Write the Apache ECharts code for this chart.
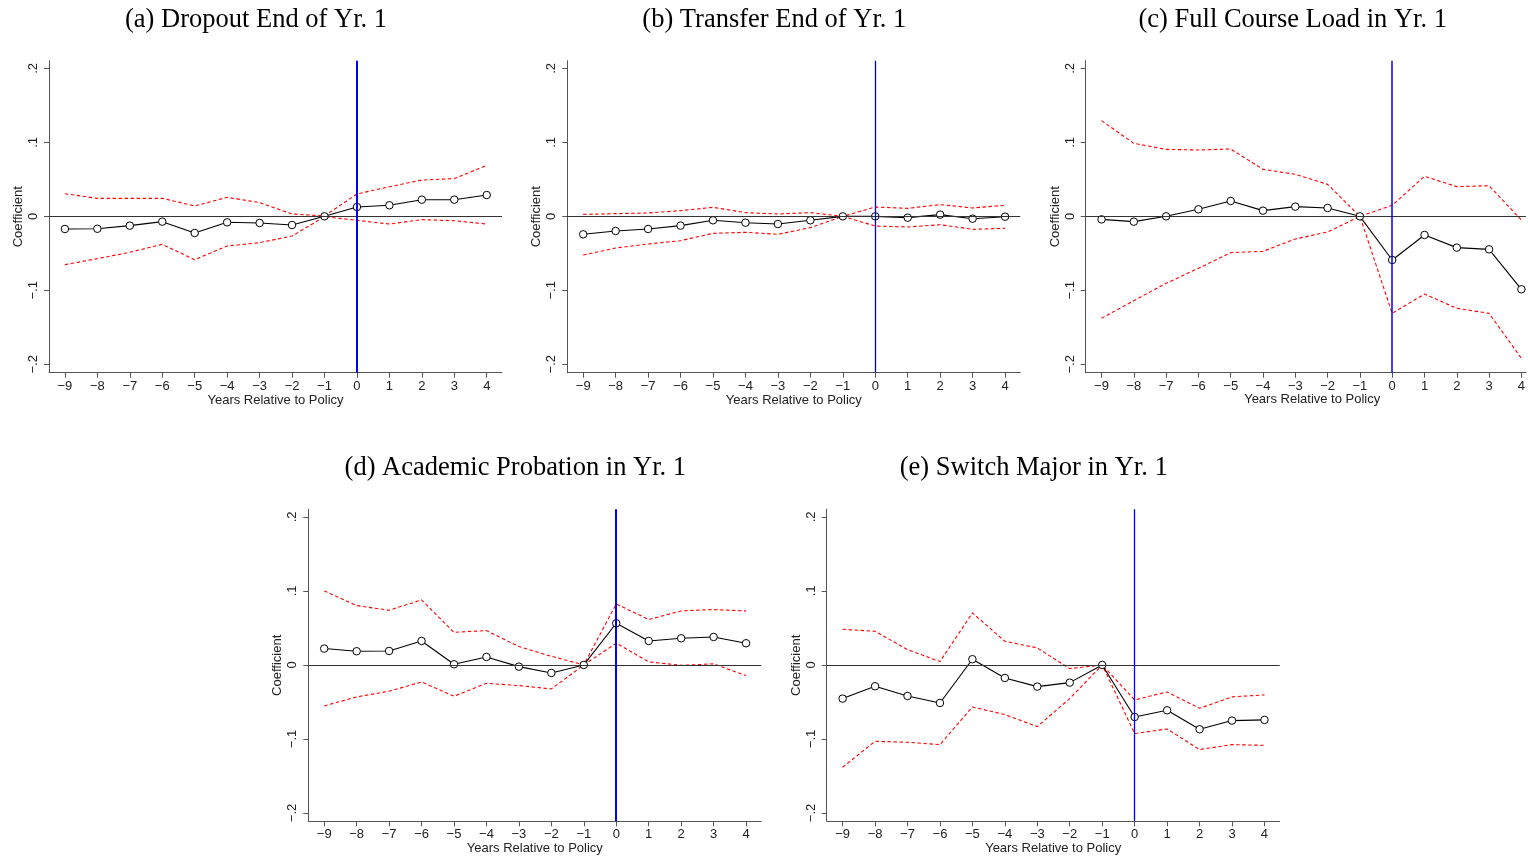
<!DOCTYPE html>
<html>
<head>
<meta charset="utf-8" />
<title>Event study coefficients</title>
<script src="https://cdn.jsdelivr.net/npm/echarts@6/dist/echarts.min.js"></script>
<style>
	html, body { margin: 0; padding: 0; background: #fff; }
	#container { width: 1528px; height: 859px; }
</style>
</head>
<body>
<div id="container"></div>
<script>
// years relative to policy (x axis)
var years = [-9, -8, -7, -6, -5, -4, -3, -2, -1, 0, 1, 2, 3, 4];
var yTicks = [-0.2, -0.1, 0, 0.1, 0.2];

// (a) dropout
var dropoutCoef = [-0.0171, -0.0168, -0.0126, -0.0072, -0.0225, -0.0081, -0.009, -0.0117, 0, 0.0126, 0.0149, 0.0225, 0.0225, 0.0288];
var dropoutHi = [0.0306, 0.0243, 0.0243, 0.0243, 0.014, 0.0257, 0.0185, 0.0032, 0.0005, 0.0302, 0.040, 0.049, 0.051, 0.0689];
var dropoutLo = [-0.0653, -0.0572, -0.0486, -0.0378, -0.0586, -0.0401, -0.0356, -0.0266, -0.0005, -0.0054, -0.0104, -0.0045, -0.0059, -0.0104];

// (b) transfer
var transferCoef = [-0.0243, -0.0198, -0.0171, -0.0126, -0.0054, -0.0086, -0.0104, -0.0054, 0, 0, -0.0018, 0.0023, -0.0032, -0.0005];
var transferHi = [0.0027, 0.0036, 0.0045, 0.0077, 0.0122, 0.005, 0.0032, 0.005, 0, 0.0126, 0.0108, 0.0158, 0.0113, 0.0149];
var transferLo = [-0.0523, -0.0428, -0.0374, -0.0329, -0.023, -0.0216, -0.0243, -0.0153, 0, -0.0131, -0.0144, -0.0113, -0.0176, -0.0162];

// (c) full course load
var courseCoef = [-0.0041, -0.0072, 0, 0.0095, 0.0207, 0.0077, 0.0131, 0.0113, 0, -0.059, -0.0252, -0.0423, -0.0446, -0.0986];
var courseHi = [0.1293, 0.0986, 0.0905, 0.0896, 0.091, 0.0635, 0.0568, 0.0432, 0, 0.0149, 0.0541, 0.0401, 0.0414, -0.005];
var courseLo = [-0.1378, -0.114, -0.0905, -0.0703, -0.0491, -0.0473, -0.0306, -0.0212, 0, -0.1311, -0.105, -0.1243, -0.1311, -0.1919];

// (d) academic probation
var probationCoef = [0.0221, 0.0185, 0.0189, 0.0324, 0.0009, 0.0108, -0.0023, -0.0108, 0, 0.0563, 0.0324, 0.036, 0.0378, 0.0293];
var probationHi = [0.1, 0.0802, 0.0739, 0.0878, 0.0441, 0.0464, 0.0248, 0.0117, 0, 0.0824, 0.0613, 0.073, 0.0748, 0.073];
var probationLo = [-0.0554, -0.0432, -0.0356, -0.023, -0.0423, -0.0248, -0.0279, -0.0324, 0, 0.0293, 0.0041, -0.0005, 0.0014, -0.0144];

// (e) switch major
var majorCoef = [-0.0455, -0.0288, -0.0419, -0.0514, 0.0077, -0.0176, -0.0293, -0.0239, 0, -0.0703, -0.0613, -0.0869, -0.0752, -0.0743];
var majorHi = [0.0482, 0.0455, 0.0207, 0.0045, 0.0703, 0.032, 0.023, -0.005, 0, -0.0473, -0.0365, -0.0586, -0.0432, -0.0405];
var majorLo = [-0.1383, -0.1032, -0.1045, -0.1077, -0.0568, -0.0671, -0.0833, -0.0455, 0, -0.0928, -0.0865, -0.1144, -0.1077, -0.1086];

var panelTitles = [
	'(a) Dropout End of Yr. 1',
	'(b) Transfer End of Yr. 1',
	'(c) Full Course Load in Yr. 1',
	'(d) Academic Probation in Yr. 1',
	'(e) Switch Major in Yr. 1'
];

// panel (c) runs off the right edge of the page, so its grid is cut at the edge
var panels = [
	{ title: panelTitles[0], coef: dropoutCoef, hi: dropoutHi, lo: dropoutLo, left: 49, top: 60.7, width: 453, blue: 2 },
	{ title: panelTitles[1], coef: transferCoef, hi: transferHi, lo: transferLo, left: 567.3, top: 60.7, width: 453, blue: 1.3 },
	{ title: panelTitles[2], coef: courseCoef, hi: courseHi, lo: courseLo, left: 1085.7, top: 60.7, width: 442.3, blue: 1.5 },
	{ title: panelTitles[3], coef: probationCoef, hi: probationHi, lo: probationLo, left: 308.3, top: 509.3, width: 453, blue: 2 },
	{ title: panelTitles[4], coef: majorCoef, hi: majorHi, lo: majorLo, left: 826.7, top: 509.3, width: 453, blue: 1.3 }
];

var sans = '"Liberation Sans", Arial, Helvetica, sans-serif';
var serif = '"Liberation Serif", "Times New Roman", serif';
var xMin = -9.49, xSpan = 13.96;

function pairs(vals) {
	return years.map(function(x, i) { return [x, vals[i]]; });
}

function minusSign(s) {
	return String(s).replace('-', '\u2212');
}

var grids = [], xAxes = [], yAxes = [], series = [], graphics = [];

panels.forEach(function(p, k) {
	grids.push({ left: p.left, top: p.top, width: p.width, height: 312, containLabel: false });

	xAxes.push({
		type: 'value', gridIndex: k, min: xMin, max: xMin + xSpan * p.width / 453,
		name: 'Years Relative to Policy', nameLocation: 'middle', nameGap: 20,
		nameTextStyle: { fontFamily: sans, fontSize: 13, color: '#222' },
		axisLine: { show: true, onZero: false, lineStyle: { color: '#555', width: 1 } },
		axisTick: { show: true, customValues: years, length: 5, lineStyle: { color: '#555' } },
		axisLabel: {
			customValues: years, margin: 7, fontFamily: sans, fontSize: 13, color: '#222',
			formatter: function(v) { return minusSign(v); }
		},
		splitLine: { show: false }
	});
	if (p.width < 453) {
		// keep the axis title centred on the full (uncut) panel width
		xAxes[k].name = '';
		graphics.push({
			type: 'text', x: p.left + 226.5, y: p.top + 312 + 27,
			style: { text: 'Years Relative to Policy', font: '13px ' + sans, fill: '#222',
				textAlign: 'center', textVerticalAlign: 'middle' }
		});
	}

	yAxes.push({
		type: 'value', gridIndex: k, min: -0.2113, max: 0.2103,
		name: 'Coefficient', nameLocation: 'middle', nameGap: 24,
		nameTextStyle: { fontFamily: sans, fontSize: 13, color: '#222' },
		axisLine: { show: true, onZero: false, lineStyle: { color: '#555', width: 1 } },
		axisTick: { show: true, customValues: yTicks, length: 5, lineStyle: { color: '#555' } },
		axisLabel: {
			customValues: yTicks, rotate: 90, margin: 9, fontFamily: sans, fontSize: 13, color: '#222',
			formatter: function(v) {
				if (Math.abs(v) < 1e-9) return '0';
				var s = Math.abs(v).toFixed(1).replace(/^0/, '');
				return (v < 0 ? '\u2212' : '') + s;
			}
		},
		splitLine: { show: false }
	});

	var dash = { color: '#ff0000', width: 1.1, type: [3.5, 2.5] };
	series.push({
		type: 'line', xAxisIndex: k, yAxisIndex: k, data: pairs(p.hi),
		showSymbol: false, lineStyle: dash, silent: true
	});
	series.push({
		type: 'line', xAxisIndex: k, yAxisIndex: k, data: pairs(p.lo),
		showSymbol: false, lineStyle: dash, silent: true
	});
	series.push({
		type: 'line', xAxisIndex: k, yAxisIndex: k, data: pairs(p.coef),
		symbol: 'circle', symbolSize: 7.5, z: 3,
		lineStyle: { color: '#000', width: 1.1 },
		itemStyle: { color: '#fff', borderColor: '#000', borderWidth: 1 },
		markLine: {
			silent: true, symbol: 'none', label: { show: false },
			data: [
				{ yAxis: 0, lineStyle: { color: '#333', width: 1, type: 'solid' } },
				{ xAxis: 0, lineStyle: { color: '#0000ff', width: p.blue, type: 'solid' } }
			]
		}
	});

	graphics.push({
		type: 'text', x: p.left + 207, y: p.top - 41,
		style: {
			text: p.title, font: '26.5px ' + serif, fill: '#000',
			textAlign: 'center', textVerticalAlign: 'middle'
		}
	});
});

var myChart = echarts.init(document.getElementById('container'));
var option = {
	animation: false,
	backgroundColor: '#fff',
	grid: grids,
	xAxis: xAxes,
	yAxis: yAxes,
	series: series,
	graphic: graphics
};
myChart.setOption(option);
</script>
</body>
</html>
